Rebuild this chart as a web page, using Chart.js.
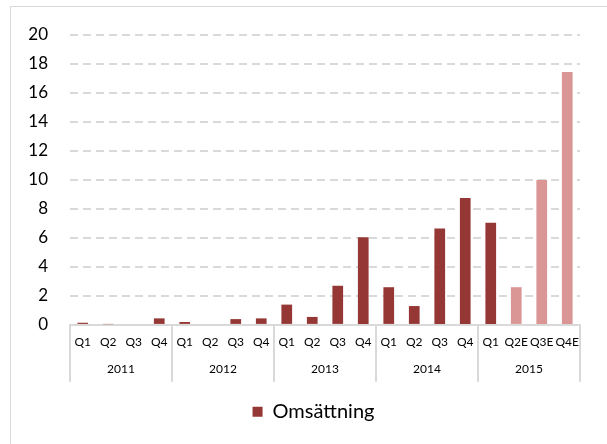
<!DOCTYPE html>
<html>
<head>
<meta charset="utf-8">
<script src="https://cdn.jsdelivr.net/npm/chart.js@4/dist/chart.umd.min.js"></script>
<style>
  html, body { margin: 0; padding: 0; background: #fff; }
  #wrap { position: relative; width: 607px; height: 444px; overflow: hidden; }
  #frame { position: absolute; left: 10px; top: 6px; width: 700px; height: 600px;
           border: 1.5px solid #d9d9d9; box-sizing: border-box; }
  canvas { position: absolute; left: 0; top: 0; }
</style>
</head>
<body>
<div id="wrap">
  <div id="frame"></div>
  <canvas id="chart" width="607" height="444"></canvas>
</div>
<script>
// Quarterly turnover (MSEK), estimates marked with "E"
const quarters = ['Q1','Q2','Q3','Q4','Q1','Q2','Q3','Q4','Q1','Q2','Q3','Q4',
                  'Q1','Q2','Q3','Q4','Q1','Q2E','Q3E','Q4E'];
const years = ['2011','2012','2013','2014','2015'];
const omsattning = [0.15, 0.05, 0.07, 0.45, 0.2, 0.07, 0.4, 0.45, 1.4, 0.55, 2.7, 6.05,
                    2.6, 1.3, 6.65, 8.75, 7.05, 2.6, 10, 17.45];
const yTicks = [0, 2, 4, 6, 8, 10, 12, 14, 16, 18, 20];

const ACTUAL = '#953735';
const ESTIMATE = '#d99694';
const GRID = '#d9d9d9';
const FONT = 'Lato, "Open Sans", sans-serif';

Chart.defaults.font.family = FONT;
Chart.defaults.color = '#000';

// Vertical dividers between the year groups, running through both label rows
const yearDividers = {
  id: 'yearDividers',
  afterDraw(chart) {
    const x = chart.scales.x;
    const yr = chart.scales.year;
    const half = (yr.getPixelForTick(1) - yr.getPixelForTick(0)) / 2;
    const ctx = chart.ctx;
    ctx.save();
    ctx.strokeStyle = GRID;
    ctx.lineWidth = 2;
    for (let k = 0; k <= years.length; k++) {
      const px = k < years.length ? yr.getPixelForTick(k) - half
                                  : yr.getPixelForTick(years.length - 1) + half;
      ctx.beginPath();
      ctx.moveTo(px, x.top);
      ctx.lineTo(px, yr.bottom + 4);
      ctx.stroke();
    }
    ctx.restore();
  }
};

new Chart(document.getElementById('chart'), {
  type: 'bar',
  data: {
    labels: quarters,
    datasets: [{
      label: 'Omsättning',
      data: omsattning,
      backgroundColor: quarters.map(q => q.endsWith('E') ? ESTIMATE : ACTUAL),
      categoryPercentage: 1,
      barPercentage: 0.42,
      xAxisID: 'x'
    }]
  },
  plugins: [yearDividers],
  options: {
    responsive: false,
    animation: false,
    layout: { padding: { left: 20, right: 0, top: 35, bottom: 12.3 } },
    plugins: {
      tooltip: { enabled: false },
      legend: {
        position: 'bottom',
        labels: {
          boxWidth: 10, boxHeight: 10, padding: 24,
          font: { size: 20 },
          generateLabels: chart => [{
            text: 'Omsättning', fillStyle: ACTUAL, strokeStyle: ACTUAL,
            lineWidth: 0, hidden: false, datasetIndex: 0
          }]
        }
      }
    },
    scales: {
      y: {
        min: 0, max: 20,
        afterBuildTicks: s => { s.ticks = yTicks.map(v => ({ value: v })); },
        afterFit: s => { s.width = 50; },
        grid: {
          color: ctx => ctx.tick && ctx.tick.value === 0 ? 'transparent' : GRID,
          lineWidth: 2,
          drawTicks: false
        },
        border: { display: false, dash: [8, 5] },
        ticks: { padding: 22, font: { size: 17 } }
      },
      x: {
        position: 'bottom',
        offset: true,
        afterFit: s => { s.paddingRight = 27; },
        border: { display: true, color: GRID, width: 2 },
        grid: { display: false, drawTicks: false },
        ticks: { autoSkip: false, maxRotation: 0, padding: 10.5, font: { size: 12 } }
      },
      year: {
        type: 'category',
        labels: years,
        position: 'bottom',
        offset: true,
        border: { display: false },
        grid: { display: false, drawTicks: false },
        ticks: { autoSkip: false, maxRotation: 0, padding: 1.5, font: { size: 12 } }
      }
    }
  }
});
</script>
</body>
</html>
